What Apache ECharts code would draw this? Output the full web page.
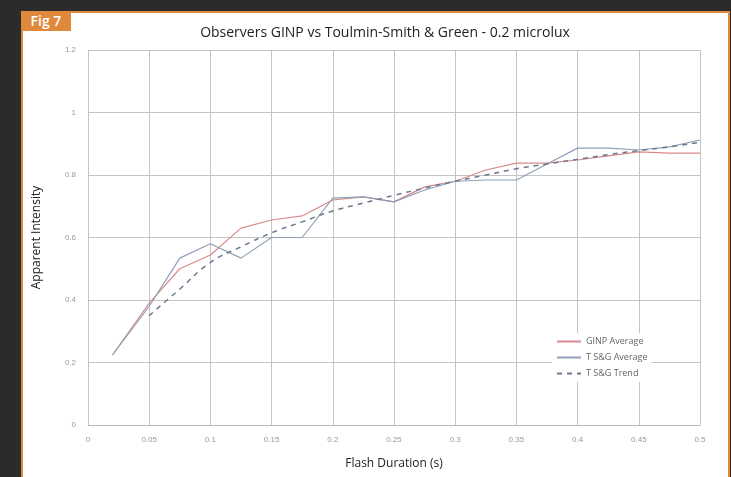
<!DOCTYPE html>
<html>
<head>
<meta charset="utf-8">
<script src="https://cdn.jsdelivr.net/npm/echarts@6/dist/echarts.min.js"></script>
<style>
html,body{margin:0;padding:0;background:#2b2b2b;}
#frame{position:absolute;left:21px;top:11px;width:705px;height:470px;background:#fff;border:2px solid #e0893d;}
#tag{position:absolute;left:21px;top:11px;width:50px;height:20px;background:#e0893d;color:#fff;font:600 14px "Open Sans",sans-serif;line-height:20px;text-align:center;z-index:2;}
#mainChart{position:absolute;left:0;top:0;width:731px;height:477px;z-index:1;}
</style>
</head>
<body>
<div id="frame"></div>
<div id="tag">Fig 7</div>
<div id="mainChart"></div>
<script>
var xValues = [0.02, 0.05, 0.075, 0.1, 0.125, 0.15, 0.175, 0.2, 0.225, 0.25, 0.275, 0.3, 0.325, 0.35, 0.375, 0.4, 0.425, 0.45, 0.475, 0.5];
var ginpAvg = [0.224, 0.39, 0.50, 0.544, 0.63, 0.656, 0.669, 0.72, 0.73, 0.714, 0.762, 0.78, 0.816, 0.838, 0.838, 0.848, 0.861, 0.874, 0.87, 0.87];
var tsgAvg = [0.224, 0.38, 0.534, 0.58, 0.534, 0.60, 0.60, 0.726, 0.73, 0.714, 0.752, 0.78, 0.784, 0.784, 0.835, 0.886, 0.886, 0.88, 0.89, 0.912];
var trendX = [0.05, 0.075, 0.1, 0.125, 0.15, 0.175, 0.2, 0.225, 0.25, 0.275, 0.3, 0.325, 0.35, 0.375, 0.4, 0.425, 0.45, 0.475, 0.5];
var tsgTrend = [0.35, 0.435, 0.52, 0.57, 0.615, 0.65, 0.685, 0.71, 0.735, 0.758, 0.78, 0.80, 0.82, 0.835, 0.85, 0.865, 0.878, 0.89, 0.905];
var seriesNames = ["GINP Average", "T S&G Average", "T S&G Trend"];

function pairs(xs, ys) {
    var out = [];
    for (var i = 0; i < xs.length; i++) {
        out.push([xs[i], ys[i]]);
    }
    return out;
}

var myChart = echarts.init(document.getElementById("mainChart"));
var option = {
    animation: false,
    title: {
        text: "Observers GINP vs Toulmin-Smith & Green - 0.2 microlux",
        left: 380,
        textAlign: "center",
        top: 21,
        textStyle: {fontFamily: "Open Sans", fontSize: 14, fontWeight: "normal", color: "#222"}
    },
    grid: {left: 88, right: 31, top: 50, bottom: 52},
    legend: {
        orient: "vertical",
        left: 552,
        top: 333,
        itemWidth: 24,
        itemHeight: 8,
        itemGap: 7,
        backgroundColor: "#fff",
        padding: [4, 4],
        itemStyle: {opacity: 0},
        textStyle: {fontFamily: "Open Sans", fontSize: 9, color: "#666"},
        data: seriesNames
    },
    xAxis: {
        type: "value",
        min: 0,
        max: 0.5,
        interval: 0.05,
        name: "Flash Duration (s)",
        nameLocation: "middle",
        nameGap: 33,
        nameTextStyle: {fontFamily: "Open Sans", fontSize: 12, color: "#222"},
        axisLine: {lineStyle: {color: "#bbb"}},
        axisTick: {show: false},
        axisLabel: {fontSize: 8, color: "#999", margin: 11},
        splitLine: {lineStyle: {color: "#c4c4c4"}}
    },
    yAxis: {
        type: "value",
        min: 0,
        max: 1.2,
        interval: 0.2,
        name: "Apparent Intensity",
        nameLocation: "middle",
        nameGap: 45,
        nameTextStyle: {fontFamily: "Open Sans", fontSize: 12, color: "#222"},
        axisLine: {show: false},
        axisTick: {show: false},
        axisLabel: {fontSize: 8, color: "#999", margin: 12},
        splitLine: {lineStyle: {color: "#c4c4c4"}}
    },
    series: [{
        name: seriesNames[0],
        type: "line",
        symbol: "none",
        data: pairs(xValues, ginpAvg),
        itemStyle: {color: "#d98a8c"},
        lineStyle: {width: 1.2, color: "#d98a8c"}
    }, {
        name: seriesNames[1],
        type: "line",
        symbol: "none",
        data: pairs(xValues, tsgAvg),
        itemStyle: {color: "#8f9fb8"},
        lineStyle: {width: 1.2, color: "#8f9fb8"}
    }, {
        name: seriesNames[2],
        type: "line",
        symbol: "none",
        smooth: true,
        data: pairs(trendX, tsgTrend),
        itemStyle: {color: "#6b7890"},
        lineStyle: {width: 1.5, type: [5, 5], color: "#6b7890"}
    }]
};
myChart.setOption(option);
</script>
</body>
</html>
